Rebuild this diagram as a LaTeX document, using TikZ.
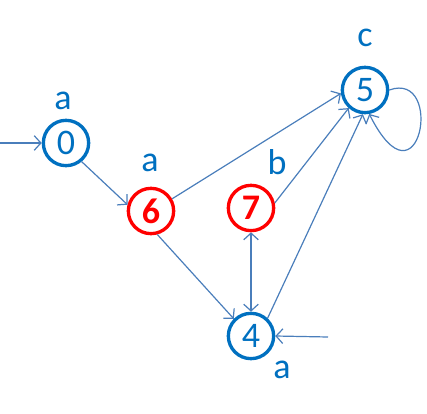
\documentclass[tikz,border=0pt]{standalone}
\usepackage{fontspec}
\setmainfont{Carlito}
\usetikzlibrary{arrows.meta}
\definecolor{stblue}{HTML}{0070C0}
\definecolor{stred}{HTML}{FF0000}
\definecolor{edgeblue}{HTML}{4A7EBB}

\begin{document}
\begin{tikzpicture}[x=0.75pt,y=-0.75pt,
    state/.style={circle,draw=stblue,line width=2.5pt,minimum size=34pt,inner sep=0pt,text=stblue,font=\fontsize{27}{30}\selectfont},
    hot/.style={state,draw=stred,text=stred,font=\fontsize{27}{30}\selectfont\bfseries},
    lbl/.style={text=stblue,font=\fontsize{27}{30}\selectfont},
    edge/.style={edgeblue,line width=0.9pt,-{Straight Barb[length=5pt,width=11pt]}}]
    \useasboundingbox (0,0) rectangle (427,413);
    % estados
    \node[state] (n0) at (66,143) {0};
    \node[hot] (n6) at (151,211) {6};
    \node[hot] (n7) at (251,208) {7};
    \node[state] (n5) at (365,90) {5};
    \node[state] (n4) at (251,336) {4};
    % etiquetas
    \node[lbl] (l0) at (63,101) {a};
    \node[lbl] (l6) at (150,163) {a};
    \node[lbl] (l7) at (277,162) {b};
    \node[lbl] (l5) at (365,38) {c};
    \node[lbl] (l4) at (282,370) {a};
    % entradas
    \coordinate (in0) at (0,143);
    \coordinate (in4) at (328,337);
    \draw[edge] (in0) -- (n0.west);
    \draw[edge] (in4) -- (n4.east);
    % transiciones
    \draw[edge] (n0.-50) -- (n6.165);
    \draw[edge] (n6.30) -- (n5.188);
    \draw[edge] (n6.-75) -- (n4.135);
    \draw[edge] (n7.12) -- (n5.228);
    \draw[edge] (n4.47) -- (n5.265);
    \draw[edge,{Straight Barb[length=5pt,width=11pt]}-{Straight Barb[length=5pt,width=11pt]}] (n7.south) -- (n4.north);
    \draw[edge] (n5.east) .. controls (445,70) and (420,215) .. (n5.-80);
\end{tikzpicture}
\end{document}
